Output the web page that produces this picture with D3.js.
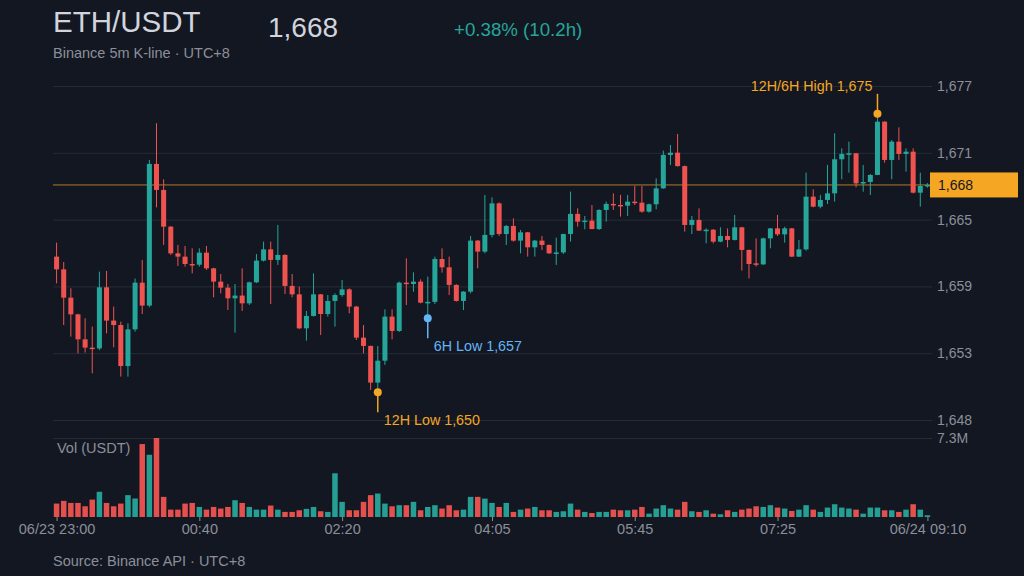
<!DOCTYPE html>
<html>
<head>
<meta charset="utf-8">
<script src="https://cdn.jsdelivr.net/npm/d3@7"></script>
<style>
  html, body { margin: 0; padding: 0; background: #131722; }
  svg { display: block; font-family: "Liberation Sans", Arial, sans-serif; }
</style>
</head>
<body>
<script>
// 5m candles, 06/23 23:00 -> 06/24 09:10 (UTC+8)
var open = [
  1661.93,1660.81,1658.32,1656.85,1654.65,1653.92,1653.85,1659.23,1656.3,1655.91,
  1652.3,1655.53,1659.64,1657.62,1670.09,1667.8,1664.57,1662.22,1661.93,1661.28,
  1661.22,1662.28,1660.9,1659.73,1659.2,1658.26,1658.5,1657.82,1659.67,1661.58,
  1662.57,1661.64,1662.08,1659.35,1658.61,1655.62,1656.71,1658.61,1656.88,1658.03,
  1658.55,1659.05,1657.53,1654.8,1654.07,1650.84,1652.77,1656.65,1655.39,1659.64,
  1659.52,1659.73,1657.88,1657.95,1661.72,1660.99,1659.44,1658.03,1658.85,1663.34,
  1662.37,1663.84,1666.62,1663.92,1664.63,1663.34,1664.07,1662.75,1663.34,1662.96,
  1662.22,1662.3,1663.92,1665.69,1665.01,1665.1,1664.36,1666.04,1666.57,1666.48,
  1666.42,1666.77,1666.68,1665.89,1666.54,1667.94,1670.88,1671.08,1669.9,1664.72,
  1665.16,1664.22,1664.3,1663.25,1663.75,1663.4,1664.51,1662.52,1661.34,1661.25,
  1663.54,1664.42,1663.89,1664.42,1661.93,1662.57,1667.21,1666.33,1666.92,1667.5,
  1670.5,1670.97,1671.03,1668.38,1668.5,1669.12,1673.81,1670.44,1672.05,1670.97,
  1671.17,1667.56,1668.15
];
var high = [
  1663.16,1661.46,1659.14,1656.9,1656.5,1655.77,1660.61,1660.67,1657.53,1656.2,
  1656.06,1660.0,1661.64,1670.44,1673.67,1668.74,1664.63,1662.96,1662.87,1662.66,
  1662.66,1662.87,1660.95,1660.4,1659.52,1659.52,1660.9,1659.73,1662.16,1663.25,
  1663.25,1664.72,1662.15,1660.4,1659.29,1657.15,1660.46,1658.65,1658.55,1658.7,
  1659.88,1659.14,1657.6,1655.91,1654.1,1654.07,1657.29,1657.29,1659.73,1661.78,
  1660.55,1659.93,1660.17,1661.93,1662.66,1661.93,1659.5,1658.9,1663.75,1663.4,
  1667.36,1667.15,1666.7,1664.72,1665.3,1664.28,1664.1,1663.4,1663.75,1663.0,
  1663.6,1663.95,1667.65,1666.18,1665.51,1666.47,1666.1,1666.77,1667.5,1667.36,
  1667.36,1668.15,1668.15,1666.6,1668.82,1671.26,1671.76,1672.73,1669.95,1665.51,
  1666.18,1664.42,1664.36,1664.51,1664.42,1665.6,1664.55,1662.55,1663.54,1663.6,
  1664.45,1665.6,1664.56,1664.45,1663.4,1669.32,1667.86,1667.36,1670.0,1672.79,
  1671.46,1672.05,1671.05,1670.0,1669.2,1674.5,1673.85,1672.2,1673.31,1671.46,
  1671.46,1669.32,1668.4
];
var low = [
  1659.58,1655.91,1654.89,1653.42,1653.48,1651.66,1653.7,1655.18,1653.95,1651.37,
  1651.37,1655.33,1656.88,1657.47,1666.27,1662.96,1662.08,1661.11,1661.05,1660.46,
  1661.05,1660.76,1658.35,1658.7,1657.23,1655.24,1657.15,1657.67,1659.6,1661.5,
  1657.76,1661.2,1658.64,1658.35,1655.55,1654.54,1656.65,1655.03,1656.65,1655.77,
  1658.4,1656.94,1654.59,1653.42,1650.2,1650.0,1652.4,1654.65,1655.3,1657.67,
  1658.85,1657.82,1656.5,1657.76,1660.52,1658.55,1657.97,1657.23,1658.7,1660.9,
  1662.22,1663.63,1663.75,1662.96,1663.25,1662.22,1661.93,1661.93,1662.52,1662.16,
  1661.2,1662.16,1663.25,1664.57,1664.34,1664.34,1664.28,1665.01,1666.04,1665.45,
  1665.51,1666.48,1665.8,1665.8,1666.1,1667.9,1670.0,1669.85,1664.13,1663.92,
  1664.2,1663.1,1663.1,1663.2,1662.75,1663.35,1660.7,1660.02,1661.05,1661.2,
  1662.66,1663.75,1663.16,1661.9,1661.9,1662.46,1666.27,1666.18,1666.57,1666.77,
  1668.74,1669.32,1668.03,1667.65,1667.36,1669.1,1670.2,1668.74,1670.44,1669.41,
  1667.5,1666.33,1668.0
];
var close = [
  1660.81,1658.32,1656.85,1654.65,1653.92,1653.85,1659.23,1656.3,1655.91,1652.3,
  1655.53,1659.64,1657.62,1670.09,1667.8,1664.57,1662.22,1661.93,1661.28,1661.22,
  1662.28,1660.9,1659.73,1659.2,1658.26,1658.5,1657.82,1659.67,1661.58,1662.57,
  1661.64,1662.08,1659.35,1658.61,1655.62,1656.71,1658.61,1656.88,1658.03,1658.55,
  1659.05,1657.53,1654.8,1654.07,1650.84,1652.77,1656.65,1655.39,1659.64,1659.52,
  1659.73,1657.88,1657.95,1661.72,1660.99,1659.44,1658.03,1658.85,1663.34,1662.37,
  1663.84,1666.62,1663.92,1664.63,1663.34,1664.07,1662.75,1663.34,1662.96,1662.22,
  1662.3,1663.92,1665.69,1665.01,1665.1,1664.36,1666.04,1666.57,1666.48,1666.42,
  1666.77,1666.68,1665.89,1666.54,1667.94,1670.88,1671.08,1669.9,1664.72,1665.16,
  1664.22,1664.3,1663.25,1663.75,1663.4,1664.51,1662.52,1661.28,1661.25,1663.54,
  1664.42,1663.89,1664.42,1661.93,1662.57,1667.21,1666.33,1666.92,1667.5,1670.5,
  1670.97,1671.03,1668.38,1668.5,1669.12,1673.81,1670.44,1672.05,1670.97,1671.17,
  1667.56,1668.15,1668.24
];
// volume in millions of USDT
var volume = [
  1.24,1.49,1.30,1.30,0.99,1.61,2.33,1.30,0.99,1.24,
  2.02,1.71,6.74,5.75,7.3,1.86,0.68,0.68,1.24,1.30,
  0.93,0.68,0.93,0.78,0.93,1.55,1.30,0.93,0.68,0.68,
  1.06,0.68,0.47,0.47,0.62,0.75,0.93,0.53,0.47,4.04,
  1.40,0.62,0.62,1.40,2.02,2.17,1.24,0.99,1.09,1.09,
  1.40,0.62,0.93,1.09,0.78,1.09,0.62,0.68,1.86,1.86,
  1.70,1.30,0.93,1.30,0.47,0.68,0.78,0.93,0.62,0.62,
  0.47,0.53,1.24,0.68,0.47,0.37,0.47,0.47,0.68,0.62,
  0.62,0.68,0.93,0.31,0.78,1.09,0.78,0.68,1.40,0.53,
  0.47,0.62,0.31,0.25,0.62,0.47,0.68,0.78,0.99,0.93,
  1.09,0.87,0.78,0.56,0.68,1.09,0.68,0.47,0.87,1.18,
  0.87,0.78,0.68,0.31,0.87,0.87,0.62,0.62,0.47,0.68,
  1.18,0.68,0.16
];

var tickTimes = ["23:00", "00:40", "02:20", "04:05", "05:45", "07:25", "09:10"];
var tickLabels = ["06/23 23:00", "00:40", "02:20", "04:05", "05:45", "07:25", "06/24 09:10"];

// category labels: 5 minute steps from 23:00
var times = d3.range(open.length).map(function(i) {
  var m = (23 * 60 + i * 5) % (24 * 60);
  return d3.format("02")(Math.floor(m / 60)) + ":" + d3.format("02")(m % 60);
});

var W = 1024, H = 576;
var left = 53, right = 932;
var pTop = 86, pBot = 420;
var vTop = 438, vBot = 517;

var UP = "#26a69a", DOWN = "#ef5350", ORANGE = "#f5a623", BLUE = "#64b5f6";
var GRID = "#262b36", MUTED = "#8b8f99", LIGHT = "#d1d4dc";
var SMALL = "14.5px";

var data = times.map(function(t, i) {
  return { t: t, o: open[i], h: high[i], l: low[i], c: close[i], v: volume[i] };
});

var hiAll = d3.max(high), loAll = d3.min(low);
var pad = (hiAll - loAll) * 0.1;

var x = d3.scalePoint().domain(times).range([left, right - 1]).padding(0.5);
var y = d3.scaleLinear().domain([loAll - pad, hiAll + pad]).range([pBot, pTop]);
var yTicks = d3.range(6).map(function(k) {
  return y.domain()[0] + k * (y.domain()[1] - y.domain()[0]) / 5;
});
var vMax = d3.max(volume);
var yv = d3.scaleLinear().domain([0, vMax]).range([vBot, vTop]);

var svg = d3.select("body").append("svg")
  .attr("width", W)
  .attr("height", H);

svg.append("rect")
  .attr("width", W)
  .attr("height", H)
  .attr("fill", "#131722");

// header
var last = close[close.length - 1];
var chg = last / open[0] - 1;

svg.append("text")
  .attr("x", 53).attr("y", 32)
  .attr("font-size", "29.5px")
  .attr("fill", LIGHT)
  .text("ETH/USDT");

svg.append("text")
  .attr("x", 53).attr("y", 58)
  .attr("font-size", SMALL)
  .attr("fill", MUTED)
  .text("Binance 5m K-line · UTC+8");

svg.append("text")
  .attr("x", 268).attr("y", 37)
  .attr("font-size", "28px")
  .attr("fill", LIGHT)
  .text(d3.format(",.0f")(last));

svg.append("text")
  .attr("x", 454).attr("y", 36)
  .attr("font-size", "18.7px")
  .attr("fill", chg >= 0 ? UP : DOWN)
  .text((chg >= 0 ? "+" : "") + d3.format(".2%")(chg) + " (10.2h)");

// price axis + grid
var yAxis = d3.axisRight(y)
  .tickValues(yTicks)
  .tickFormat(d3.format(",.0f"))
  .tickSize(-(right - left))
  .tickPadding(5);

var gy = svg.append("g")
  .attr("transform", "translate(" + right + ",0)")
  .call(yAxis);
gy.select(".domain").remove();
gy.selectAll("line").attr("stroke", GRID);
gy.selectAll("text")
  .attr("fill", MUTED)
  .attr("font-size", "14px")
  .attr("font-family", "Liberation Sans, Arial, sans-serif");

// volume axis (max only)
var vAxis = d3.axisRight(yv)
  .tickValues([vMax])
  .tickFormat(function(d) { return d3.format(".1f")(d) + "M"; })
  .tickSize(-(right - left))
  .tickPadding(5);

var gv = svg.append("g")
  .attr("transform", "translate(" + right + ",0)")
  .call(vAxis);
gv.select(".domain").remove();
gv.selectAll("line").attr("stroke", GRID);
gv.selectAll("text")
  .attr("fill", MUTED)
  .attr("font-size", "14px")
  .attr("font-family", "Liberation Sans, Arial, sans-serif");

svg.append("text")
  .attr("x", 57).attr("y", 453)
  .attr("font-size", SMALL)
  .attr("fill", MUTED)
  .text("Vol (USDT)");

// last price line
svg.append("line")
  .attr("x1", left).attr("x2", right)
  .attr("y1", y(last)).attr("y2", y(last))
  .attr("stroke", ORANGE)
  .attr("stroke-opacity", 0.7)
  .attr("stroke-width", 1);

// candles
var candle = svg.append("g").selectAll("g")
  .data(data)
  .enter()
  .append("g");

candle.append("line")
  .attr("x1", function(d) { return x(d.t); })
  .attr("x2", function(d) { return x(d.t); })
  .attr("y1", function(d) { return y(d.h); })
  .attr("y2", function(d) { return y(d.l); })
  .attr("stroke", function(d) { return d.c >= d.o ? UP : DOWN; })
  .attr("stroke-width", 1);

candle.append("rect")
  .attr("x", function(d) { return x(d.t) - 2.5; })
  .attr("width", 5)
  .attr("y", function(d) { return y(Math.max(d.o, d.c)); })
  .attr("height", function(d) { return Math.max(1.5, Math.abs(y(d.o) - y(d.c))); })
  .attr("fill", function(d) { return d.c >= d.o ? UP : DOWN; });

// volume bars
svg.append("g").selectAll("rect")
  .data(data)
  .enter()
  .append("rect")
  .attr("x", function(d) { return x(d.t) - 2.75; })
  .attr("width", 5.5)
  .attr("y", function(d) { return yv(d.v); })
  .attr("height", function(d) { return vBot - yv(d.v); })
  .attr("fill", function(d) { return d.c >= d.o ? UP : DOWN; })
  .attr("fill-opacity", 0.95);

// time axis
var xAxis = d3.axisBottom(x)
  .tickValues(tickTimes)
  .tickFormat(function(d, i) { return tickLabels[i]; })
  .tickSize(4)
  .tickPadding(3);

var gx = svg.append("g")
  .attr("transform", "translate(0," + vBot + ")")
  .call(xAxis);
gx.select(".domain").remove();
gx.selectAll("line").attr("stroke", MUTED);
gx.selectAll("text")
  .attr("fill", MUTED)
  .attr("font-size", SMALL)
  .attr("font-family", "Liberation Sans, Arial, sans-serif");

// high / low markers
var iHigh = d3.maxIndex(high);
var iLow12 = d3.minIndex(low);
var from6 = low.length - 72;
var iLow6 = from6 + d3.minIndex(low.slice(from6));

var markers = [
  { i: iHigh, v: high[iHigh], up: true, color: ORANGE, label: "12H/6H High " },
  { i: iLow12, v: low[iLow12], up: false, color: ORANGE, label: "12H Low " },
  { i: iLow6, v: low[iLow6], up: false, color: BLUE, label: "6H Low " }
];

var mk = svg.append("g").selectAll("g")
  .data(markers)
  .enter()
  .append("g");

mk.append("line")
  .attr("x1", function(d) { return x(times[d.i]); })
  .attr("x2", function(d) { return x(times[d.i]); })
  .attr("y1", function(d) { return y(d.v); })
  .attr("y2", function(d) { return y(d.v) + (d.up ? -20 : 20); })
  .attr("stroke", function(d) { return d.color; })
  .attr("stroke-width", 1.5);

mk.append("circle")
  .attr("cx", function(d) { return x(times[d.i]); })
  .attr("cy", function(d) { return y(d.v); })
  .attr("r", 4)
  .attr("fill", function(d) { return d.color; });

mk.append("text")
  .attr("x", function(d) { return x(times[d.i]) + (d.up ? -5 : 6); })
  .attr("y", function(d) { return y(d.v) + (d.up ? -28 : 28); })
  .attr("dy", "0.35em")
  .attr("text-anchor", function(d) { return d.up ? "end" : "start"; })
  .attr("font-size", "14.3px")
  .attr("fill", function(d) { return d.color; })
  .text(function(d) { return d.label + d3.format(",.0f")(d.v); });

// last price tag
svg.append("rect")
  .attr("x", 930)
  .attr("y", y(last) - 12.5)
  .attr("width", 88)
  .attr("height", 25)
  .attr("fill", ORANGE);

svg.append("text")
  .attr("x", 938)
  .attr("y", y(last))
  .attr("dy", "0.35em")
  .attr("font-size", "14px")
  .attr("fill", "#131722")
  .text(d3.format(",.0f")(last));

svg.append("text")
  .attr("x", 53).attr("y", 566)
  .attr("font-size", SMALL)
  .attr("fill", MUTED)
  .text("Source: Binance API · UTC+8");
</script>
</body>
</html>
